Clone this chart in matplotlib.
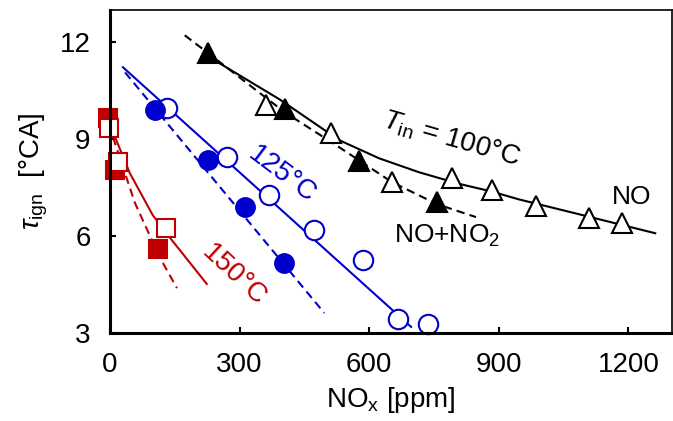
import matplotlib
matplotlib.use("Agg")
import matplotlib.pyplot as plt

plt.rcParams['font.family'] = ['Liberation Sans', 'DejaVu Sans']
plt.rcParams['mathtext.fontset'] = 'custom'
plt.rcParams['mathtext.rm'] = 'Liberation Sans'
plt.rcParams['mathtext.it'] = 'Liberation Sans:italic'

# T_in = 100 C
no_x = [362, 512, 653, 792, 884, 985, 1108, 1186]
no_y = [10.05, 9.19, 7.67, 7.79, 7.42, 6.93, 6.56, 6.40]
no2_x = [228, 404, 577, 757]
no2_y = [11.66, 9.93, 8.32, 7.05]
no_fit_x = [228, 254, 392, 531, 623, 715, 808, 884, 946, 1085, 1262]
no_fit_y = [11.63, 11.35, 10.24, 8.97, 8.41, 7.98, 7.62, 7.38, 7.14, 6.68, 6.09]
no2_fit_x = [173, 228, 404, 531, 653, 757, 847]
no2_fit_y = [12.22, 11.66, 9.84, 8.75, 7.67, 6.99, 6.59]

# T_in = 125 C
b_no2_x = [104, 228, 312, 402]
b_no2_y = [9.90, 8.35, 6.90, 5.17]
b_no_x = [132, 272, 367, 473, 586, 667, 736]
b_no_y = [9.96, 8.44, 7.27, 6.19, 5.26, 3.43, 3.28]
b_fit_x = [30, 697]
b_fit_y = [11.23, 3.19]
b_fit2_x = [35, 496]
b_fit2_y = [11.07, 3.62]

# T_in = 150 C
r_no2_x = [-4, 12, 111]
r_no2_y = [9.65, 8.04, 5.60]
r_no_x = [-2, 18, 129]
r_no_y = [9.34, 8.29, 6.25]
r_fit_x = [12, 46, 99, 143, 224]
r_fit_y = [9.06, 7.95, 6.65, 5.88, 4.52]
r_fit2_x = [7, 58, 115, 155]
r_fit2_y = [9.06, 7.02, 5.35, 4.39]

blue = '#0000CC'
red = '#C00000'

fig = plt.figure(figsize=(6.73, 4.21), dpi=100)
ax = fig.add_axes([0.1634, 0.209, 0.8346, 0.767])

# fit lines
ax.plot(no_fit_x, no_fit_y, '-', color='k', lw=1.5)
ax.plot(no2_fit_x, no2_fit_y, '--', color='k', lw=1.5, dashes=(4, 2.5))
ax.plot(b_fit_x, b_fit_y, '-', color=blue, lw=1.5)
ax.plot(b_fit2_x, b_fit2_y, '--', color=blue, lw=1.5, dashes=(4, 2.5))
ax.plot(r_fit_x, r_fit_y, '-', color=red, lw=1.5)
ax.plot(r_fit2_x, r_fit2_y, '--', color=red, lw=1.5, dashes=(4, 2.5))

# markers
ax.plot(no_x, no_y, '^', ms=15, mfc='white', mec='k', mew=1.5, ls='none')
ax.plot(no2_x, no2_y, '^', ms=15, mfc='k', mec='k', mew=1.5, ls='none')
ax.plot(b_no_x, b_no_y, 'o', ms=14, mfc='white', mec=blue, mew=1.5, ls='none', clip_on=False)
ax.plot(b_no2_x, b_no2_y, 'o', ms=13.5, mfc=blue, mec=blue, mew=1.5, ls='none')
ax.plot(r_no2_x, r_no2_y, 's', ms=13, mfc=red, mec=red, mew=1.5, ls='none', clip_on=False)
ax.plot(r_no_x, r_no_y, 's', ms=13, mfc='white', mec=red, mew=1.5, ls='none', clip_on=False)

# labels on the plot
ax.text(399, 7.9, '125°C', color=blue, fontsize=20, rotation=-37, ha='center', va='center')
ax.text(288, 4.8, '150°C', color=red, fontsize=20, rotation=-43, ha='center', va='center')
ax.text(790, 9.0, r'$T_{\mathrm{in}}$ = 100°C', color='k', fontsize=20, rotation=-16,
        ha='center', va='center')
ax.text(1207, 7.2, 'NO', fontsize=19, ha='center', va='center')
ax.text(780, 6.0, 'NO+NO$_2$', fontsize=19, ha='center', va='center')

ax.set_xlim(0, 1300)
ax.set_ylim(3, 13)
ax.set_xticks([0, 300, 600, 900, 1200])
ax.set_yticks([3, 6, 9, 12])
ax.tick_params(direction='in', length=4, width=1.5, labelsize=20, pad=14)

for s in ['left', 'bottom']:
    ax.spines[s].set_linewidth(2.2)
for s in ['top', 'right']:
    ax.spines[s].set_linewidth(1.2)

ax.set_xlabel('NO$_\\mathrm{x}$ [ppm]', fontsize=20, labelpad=5)
ax.set_ylabel(r'$\tau_{\mathrm{ign}}$  [°CA]', fontsize=20, labelpad=7)

fig.savefig('out.png', dpi=100)
